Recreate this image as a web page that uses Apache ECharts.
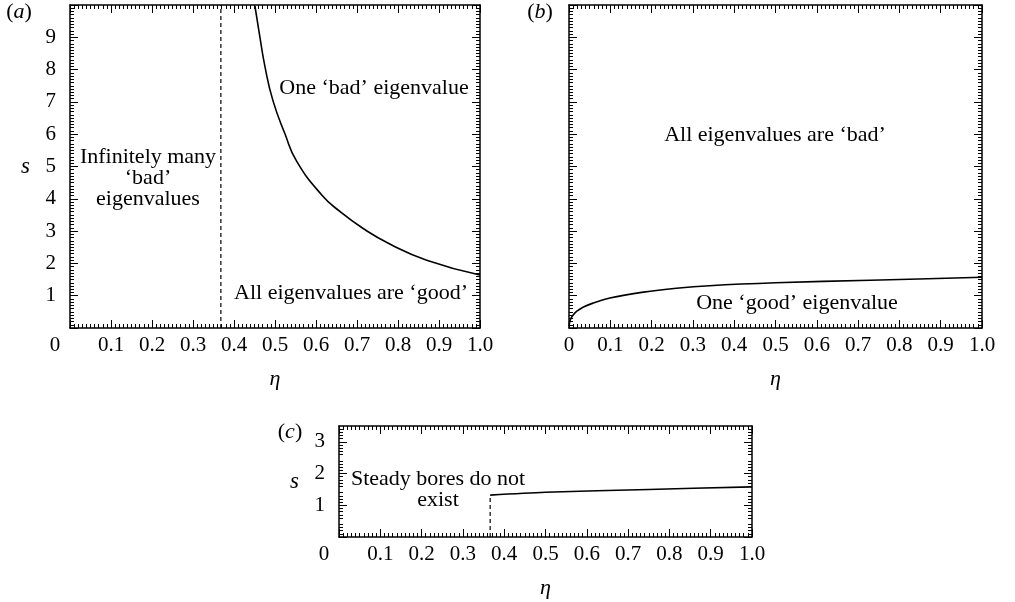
<!DOCTYPE html>
<html>
<head>
<meta charset="utf-8">
<script src="https://cdn.jsdelivr.net/npm/echarts@6/dist/echarts.min.js"></script>
<style>
  html, body { margin: 0; padding: 0; background: #fff; }
  #chart { width: 1015px; height: 602px; }
</style>
</head>
<body>
<div id="chart"></div>
<script>
// panel (a): upper boundary curve, one 'bad' eigenvalue above it
var etaA = [0.451, 0.462, 0.476, 0.495, 0.524, 0.553, 0.614, 0.659, 0.715, 0.78, 0.87, 1.0];
var sA = [9.97, 9.1, 8.06, 7.04, 6.02, 5.16, 4.12, 3.6, 3.08, 2.6, 2.1, 1.64];
// dashed limit eta = 1/e
var etaLimitA = [0.368, 0.368];
var sLimitA = [0, 10];

// panel (b): 'good' eigenvalue curve
var etaB = [0, 0.003, 0.01, 0.019, 0.035, 0.058, 0.099, 0.18, 0.26, 0.34, 0.5, 0.73, 1.0];
var sB = [0.05, 0.25, 0.4, 0.52, 0.65, 0.77, 0.93, 1.11, 1.23, 1.31, 1.4, 1.48, 1.57];

// panel (c): steady bores
var etaC = [0.366, 0.5, 0.75, 1.0];
var sC = [1.32, 1.41, 1.5, 1.58];
var etaLimitC = [0.366, 0.366];
var sLimitC = [0, 1.32];

// tick values
var sTicksAB = [0, 1, 2, 3, 4, 5, 6, 7, 8, 9, 10];
var sLabelsA = [1, 2, 3, 4, 5, 6, 7, 8, 9];
var sTicksC = [0, 1, 2, 3];
var sLabelsC = [1, 2, 3];

var FONT = '"Liberation Serif", "DejaVu Serif", serif';

function zip(xs, ys) {
    var out = [];
    for (var i = 0; i < xs.length; i++) out.push([xs[i], ys[i]]);
    return out;
}

var lineBox = { show: true, onZero: false, lineStyle: { color: '#000', width: 1.5 } };
var tickIn = { show: true, inside: true, length: 8, lineStyle: { color: '#000', width: 1 } };
var minorIn = { show: true, splitNumber: 10, length: 4, lineStyle: { color: '#000', width: 1 } };

function xAxisPair(gi, shiftZero) {
    var bottom = {
        gridIndex: gi, type: 'value', position: 'bottom',
        min: 0, max: 1, interval: 0.1,
        name: 'η', nameLocation: 'middle', nameGap: 40,
        nameTextStyle: { fontFamily: FONT, fontStyle: 'italic', fontSize: 22, color: '#000' },
        axisLine: lineBox, axisTick: tickIn, minorTick: minorIn,
        splitLine: { show: false },
        axisLabel: {
            margin: 7, fontFamily: FONT, fontSize: 21, color: '#000',
            formatter: function (v) {
                if (Math.abs(v) < 1e-9) return shiftZero ? '{z|0}' : '0';
                return v.toFixed(1);
            },
            rich: { z: { fontFamily: FONT, fontSize: 21, color: '#000', padding: [0, 30, 0, 0] } }
        }
    };
    var top = {
        gridIndex: gi, type: 'value', position: 'top',
        min: 0, max: 1, interval: 0.1,
        axisLine: lineBox, axisTick: tickIn, minorTick: minorIn,
        splitLine: { show: false }, axisLabel: { show: false }
    };
    return [bottom, top];
}

function yAxisPair(gi, max, interval, minorSplit, tickValues, labelValues) {
    var showLabels = labelValues.length > 0;
    var ticks = { show: true, inside: true, length: 8, customValues: tickValues, lineStyle: { color: '#000', width: 1 } };
    var minor = { show: true, splitNumber: minorSplit, length: 4, lineStyle: { color: '#000', width: 1 } };
    var left = {
        gridIndex: gi, type: 'value', position: 'left',
        min: 0, max: max, interval: interval,
        axisLine: lineBox, axisTick: ticks, minorTick: minor,
        splitLine: { show: false },
        axisLabel: {
            show: showLabels, margin: 14, fontFamily: FONT, fontSize: 21, color: '#000',
            customValues: labelValues
        }
    };
    if (showLabels) {
        left.name = 's';
        left.nameLocation = 'middle';
        left.nameRotate = 0;
        left.nameGap = 40;
        left.nameTextStyle = { fontFamily: FONT, fontStyle: 'italic', fontSize: 23, color: '#000' };
    }
    var right = {
        gridIndex: gi, type: 'value', position: 'right',
        min: 0, max: max, interval: interval,
        axisLine: lineBox, axisTick: ticks, minorTick: minor,
        splitLine: { show: false }, axisLabel: { show: false }
    };
    return [left, right];
}

var xs = [].concat(xAxisPair(0, true), xAxisPair(1, false), xAxisPair(2, true));
var ys = [].concat(
    yAxisPair(0, 10, 1, 10, sTicksAB, sLabelsA),
    yAxisPair(1, 10, 1, 10, sTicksAB, []),
    yAxisPair(2, 3.5, 0.5, 5, sTicksC, sLabelsC)
);

function curve(xi, yi, data, dashed, smooth) {
    return {
        type: 'line', xAxisIndex: xi, yAxisIndex: yi,
        data: data, smooth: dashed ? false : smooth,
        symbol: 'none', clip: true,
        lineStyle: { color: '#000', width: dashed ? 1.2 : 1.6, type: dashed ? [4, 3] : 'solid' },
        silent: true
    };
}

function txt(text, x, y, size) {
    var fs = size || 22;
    return {
        type: 'text', x: x, y: y, silent: true,
        style: {
            text: text, fontFamily: FONT, fontSize: fs, fill: '#000',
            align: 'center', verticalAlign: 'middle', lineHeight: 21,
            rich: { i: { fontFamily: FONT, fontSize: fs, fontStyle: 'italic', fill: '#000' } }
        }
    };
}

var option = {
    animation: false,
    backgroundColor: '#fff',
    grid: [
        { left: 70, top: 5, width: 410, height: 323 },
        { left: 569, top: 5, width: 413, height: 323 },
        { left: 339, top: 426, width: 413, height: 111 }
    ],
    xAxis: xs,
    yAxis: ys,
    series: [
        curve(0, 0, zip(etaA, sA), false, 0.5),
        curve(0, 0, zip(etaLimitA, sLimitA), true),
        curve(2, 2, zip(etaB, sB), false, 0.3),
        curve(4, 4, zip(etaC, sC), false, 0.3),
        curve(4, 4, zip(etaLimitC, sLimitC), true)
    ],
    graphic: [
        txt('({i|a})', 19, 12),
        txt('({i|b})', 540, 12),
        txt('({i|c})', 290, 432),
        txt('Infinitely many\n‘bad’\neigenvalues', 148, 178),
        txt('One ‘bad’ eigenvalue', 374, 88),
        txt('All eigenvalues are ‘good’', 351, 293),
        txt('All eigenvalues are ‘bad’', 775, 135),
        txt('One ‘good’ eigenvalue', 797, 303),
        txt('Steady bores do not\nexist', 438, 490)
    ]
};

var chart = echarts.init(document.getElementById('chart'), null, { renderer: 'canvas' });
chart.setOption(option);
</script>
</body>
</html>
